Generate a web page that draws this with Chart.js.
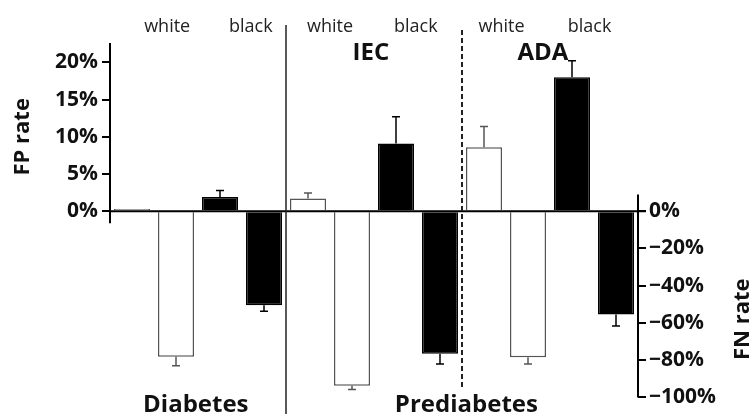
<!DOCTYPE html>
<html>
<head>
<meta charset="utf-8">
<script src="https://cdn.jsdelivr.net/npm/chart.js@4"></script>
<style>
  body { margin: 0; background: #fff; }
  #wrap { width: 752px; height: 414px; }
</style>
</head>
<body>
<div id="wrap"><canvas id="rateChart" width="752" height="414"></canvas></div>
<script>
// one bar per slot: white FP, white FN, black FP, black FN for each definition
const barLabels = [
  "Diabetes white FP", "Diabetes white FN", "Diabetes black FP", "Diabetes black FN",
  "IEC white FP", "IEC white FN", "IEC black FP", "IEC black FN",
  "ADA white FP", "ADA white FN", "ADA black FP", "ADA black FN"
];
const raceOfBar = ["white", "white", "black", "black", "white", "white", "black", "black", "white", "white", "black", "black"];

// FP rate (%) on left axis, FN rate (%) on right axis
const fpRate = [0.3, null, 1.9, null, 1.7, null, 9.1, null, 8.6, null, 18.0, null];
const fpErr = [0, null, 0.9, null, 0.75, null, 3.6, null, 2.8, null, 2.2, null];
const fnRate = [null, -78.2, null, -50.5, null, -93.7, null, -76.6, null, -78.4, null, -55.5];
const fnErr = [null, 4.8, null, 3.2, null, 2.1, null, 5.4, null, 3.6, null, 6.2];

const fpTicks = [0, 5, 10, 15, 20];
const fnTicks = [-100, -80, -60, -40, -20, 0];

const raceLabels = ["white", "black", "white", "black", "white", "black"];
const raceLabelPos = [0.8, 2.7, 4.5, 6.45, 8.4, 10.4];
const criterionLabels = ["IEC", "ADA"];
const criterionPos = [5.43, 9.34];
const outcomeLabels = ["Diabetes", "Prediabetes"];
const outcomePos = [1.45, 7.6];

const fpMax = 22.6;
const fpMin = -25;

const fillFor = (r) => (r === "white" ? "#ffffff" : "#000000");
const edgeFor = (r) => (r === "white" ? "#555555" : "#000000");
const pctLabel = (v) => (v < 0 ? "\u2212" + Math.abs(v) : v) + "%";

const annotate = {
  id: "annotate",
  afterDatasetsDraw(chart) {
    const ctx = chart.ctx;
    const x = chart.scales.x;
    const yL = chart.scales.y;
    const yR = chart.scales.y2;
    const area = chart.chartArea;
    ctx.save();

    // error bars
    const drawErr = (dsIndex, vals, errs, scale, dir) => {
      const meta = chart.getDatasetMeta(dsIndex);
      meta.data.forEach((bar, i) => {
        if (vals[i] == null || !errs[i]) return;
        const end = scale.getPixelForValue(vals[i] + dir * errs[i]);
        ctx.strokeStyle = edgeFor(raceOfBar[i]);
        ctx.lineWidth = 1.5;
        ctx.beginPath();
        ctx.moveTo(bar.x, bar.y);
        ctx.lineTo(bar.x, end);
        ctx.moveTo(bar.x - 4, end);
        ctx.lineTo(bar.x + 4, end);
        ctx.stroke();
      });
    };
    drawErr(0, fpRate, fpErr, yL, 1);
    drawErr(1, fnRate, fnErr, yR, -1);

    const zeroY = yL.getPixelForValue(0);
    ctx.strokeStyle = "#000";
    ctx.lineWidth = 2;
    ctx.beginPath();
    // zero line
    ctx.moveTo(area.left, zeroY);
    ctx.lineTo(area.right + 8, zeroY);
    // left axis
    ctx.moveTo(area.left, area.top);
    ctx.lineTo(area.left, yL.getPixelForValue(-1.6));
    // right axis
    ctx.moveTo(area.right, yR.getPixelForValue(9));
    ctx.lineTo(area.right, yR.getPixelForValue(-100));
    ctx.moveTo(area.right - 3, zeroY);
    ctx.lineTo(area.right, zeroY);
    ctx.stroke();

    // separators
    ctx.lineWidth = 1.5;
    ctx.strokeStyle = "#222";
    const solidX = x.getPixelForValue(3.5);
    ctx.beginPath();
    ctx.moveTo(solidX, 25);
    ctx.lineTo(solidX, chart.height);
    ctx.stroke();
    const dashX = x.getPixelForValue(7.5);
    ctx.setLineDash([5, 3]);
    ctx.lineWidth = 2;
    ctx.beginPath();
    ctx.moveTo(dashX, 30);
    ctx.lineTo(dashX, 388);
    ctx.stroke();
    ctx.setLineDash([]);

    // texts
    ctx.textAlign = "center";
    ctx.textBaseline = "alphabetic";
    ctx.fillStyle = "#222";
    ctx.font = "18px 'Open Sans'";
    raceLabels.forEach((t, i) => ctx.fillText(t, x.getPixelForValue(raceLabelPos[i]), 32));

    ctx.fillStyle = "#111";
    ctx.font = "bold 24px 'Open Sans'";
    criterionLabels.forEach((t, i) => ctx.fillText(t, x.getPixelForValue(criterionPos[i]), 60));
    outcomeLabels.forEach((t, i) => ctx.fillText(t, x.getPixelForValue(outcomePos[i]), 412));

    ctx.font = "bold 22px 'Open Sans'";
    ctx.textBaseline = "middle";
    ctx.save();
    ctx.translate(23, yL.getPixelForValue(10));
    ctx.rotate(-Math.PI / 2);
    ctx.fillText("FP rate", 0, 0);
    ctx.restore();
    ctx.save();
    ctx.translate(743, yR.getPixelForValue(-58));
    ctx.rotate(-Math.PI / 2);
    ctx.fillText("FN rate", 0, 0);
    ctx.restore();

    ctx.restore();
  }
};

const tickFont = { family: "'Open Sans'", size: 21, weight: "bold" };

new Chart(document.getElementById("rateChart"), {
  type: "bar",
  data: {
    labels: barLabels,
    datasets: [
      {
        label: "FP rate",
        data: fpRate,
        yAxisID: "y",
        backgroundColor: raceOfBar.map(fillFor),
        borderColor: raceOfBar.map(edgeFor),
        borderWidth: 1.5,
        grouped: false,
        barPercentage: 0.82,
        categoryPercentage: 1
      },
      {
        label: "FN rate",
        data: fnRate,
        yAxisID: "y2",
        backgroundColor: raceOfBar.map(fillFor),
        borderColor: raceOfBar.map(edgeFor),
        borderWidth: 1.5,
        grouped: false,
        barPercentage: 0.82,
        categoryPercentage: 1
      }
    ]
  },
  options: {
    responsive: false,
    animation: false,
    layout: { padding: { top: 43, bottom: 15, left: 0, right: 0 } },
    plugins: { legend: { display: false }, tooltip: { enabled: false } },
    scales: {
      x: { display: false, offset: true },
      y: {
        position: "left",
        min: fpMin,
        max: fpMax,
        afterBuildTicks: (s) => { s.ticks = fpTicks.map((v) => ({ value: v })); },
        afterFit: (s) => { s.width = 110; },
        ticks: { font: tickFont, color: "#111", padding: 4, callback: pctLabel },
        grid: { drawOnChartArea: false, drawTicks: true, tickLength: 8, color: "#000", lineWidth: 2 },
        border: { display: false }
      },
      y2: {
        position: "right",
        min: fpMin * 4,
        max: fpMax * 4,
        afterBuildTicks: (s) => { s.ticks = fnTicks.map((v) => ({ value: v })); },
        afterFit: (s) => { s.width = 114; },
        ticks: { font: tickFont, color: "#111", padding: 3, callback: pctLabel },
        grid: { drawOnChartArea: false, drawTicks: true, tickLength: 8, color: "#000", lineWidth: 2 },
        border: { display: false }
      }
    }
  },
  plugins: [annotate]
});
</script>
</body>
</html>
